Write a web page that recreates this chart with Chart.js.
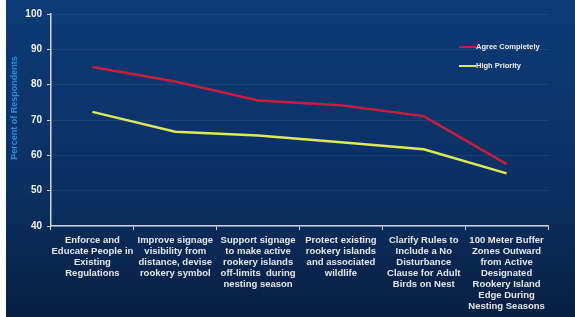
<!DOCTYPE html>
<html>
<head>
<meta charset="utf-8">
<script src="https://cdn.jsdelivr.net/npm/chart.js@4"></script>
<style>
  html, body { margin: 0; padding: 0; background: #fff; }
  #wrap { width: 575px; height: 317px; position: relative; }
</style>
</head>
<body>
<div id="wrap"><canvas id="chart" width="575" height="317"></canvas></div>
<script>
/* ---------- DATA ---------- */
const categories = [
  ['Enforce and', 'Educate People in', 'Existing', 'Regulations'],
  ['Improve signage', 'visibility from', 'distance, devise', 'rookery symbol'],
  ['Support signage', 'to make active', 'rookery islands', 'off-limits  during', 'nesting season'],
  ['Protect existing', 'rookery islands', 'and associated', 'wildlife'],
  ['Clarify Rules to', 'Include a No', 'Disturbance', 'Clause for Adult', 'Birds on Nest'],
  ['100 Meter Buffer', 'Zones Outward', 'from Active', 'Designated', 'Rookery Island', 'Edge During', 'Nesting Seasons']
];
const agreeCompletely = [85, 80.9, 75.5, 74.2, 71.1, 57.5];
const highPriority    = [72.3, 66.7, 65.6, 63.7, 61.7, 54.9];
const seriesNames     = ['Agree Completely', 'High Priority'];
const yTicks          = [40, 50, 60, 70, 80, 90, 100];

const RED = '#c81d3e';
const YELLOW = '#dbe95a';

/* ---------- BACKGROUND + LEGEND + Y TITLE ---------- */
const slidePlugin = {
  id: 'slide',
  beforeDraw(chart) {
    const { ctx, width, height } = chart;
    ctx.save();
    const g = ctx.createLinearGradient(0, 0, 0, height);
    g.addColorStop(0, '#0c3b77');
    g.addColorStop(0.6, '#0b3062');
    g.addColorStop(1, '#081f42');
    ctx.fillStyle = g;
    ctx.fillRect(0, 0, width, height);
    ctx.fillStyle = '#ffffff';
    ctx.fillRect(0, 0, 6, height);
    ctx.restore();
  },
  afterDraw(chart) {
    const { ctx } = chart;
    ctx.save();
    // y axis title
    ctx.translate(15, 108);
    ctx.rotate(-Math.PI / 2);
    ctx.fillStyle = '#2b8fd2';
    ctx.font = 'bold 9px "Liberation Sans", Arial, sans-serif';
    ctx.textAlign = 'center';
    ctx.textBaseline = 'middle';
    ctx.fillText('Percent of Respondents', 0, 0);
    ctx.restore();

    // legend
    ctx.save();
    const items = [[seriesNames[0], RED, 47], [seriesNames[1], YELLOW, 66]];
    items.forEach(([label, color, y]) => {
      ctx.strokeStyle = color;
      ctx.lineWidth = 2;
      ctx.beginPath();
      ctx.moveTo(459, y);
      ctx.lineTo(476, y);
      ctx.stroke();
      ctx.fillStyle = '#eef1f6';
      ctx.font = 'bold 7.5px "Liberation Sans", Arial, sans-serif';
      ctx.textAlign = 'left';
      ctx.textBaseline = 'middle';
      ctx.fillText(label, 476, y);
    });
    ctx.restore();
  }
};

new Chart(document.getElementById('chart'), {
  type: 'line',
  data: {
    labels: categories,
    datasets: [
      {
        label: seriesNames[0],
        data: agreeCompletely,
        borderColor: RED,
        borderWidth: 2.5,
        pointRadius: 0,
        tension: 0
      },
      {
        label: seriesNames[1],
        data: highPriority,
        borderColor: YELLOW,
        borderWidth: 2.5,
        pointRadius: 0,
        tension: 0
      }
    ]
  },
  options: {
    responsive: false,
    animation: false,
    layout: { padding: { top: 14, right: 27, left: 0, bottom: 0 } },
    plugins: {
      legend: { display: false },
      tooltip: { enabled: false }
    },
    scales: {
      x: {
        offset: true,
        grid: {
          offset: true,
          drawOnChartArea: false,
          drawTicks: true,
          tickLength: 4,
          tickColor: '#c9d3e2'
        },
        border: { color: '#c9d3e2', width: 1.5 },
        ticks: {
          color: '#e3e7ee',
          maxRotation: 0,
          autoSkip: false,
          padding: 5,
          font: { family: '"Liberation Sans", Arial, sans-serif', size: 9.5, weight: 'bold', lineHeight: 1.16 }
        },
        afterFit(scale) { scale.height = 91; }
      },
      y: {
        min: 40,
        max: 100,
        afterBuildTicks(scale) { scale.ticks = yTicks.map(v => ({ value: v })); },
        grid: {
          color: 'rgba(255,255,255,0.07)',
          tickColor: '#c9d3e2',
          tickLength: 4
        },
        border: { color: '#c9d3e2', width: 1.5 },
        ticks: {
          color: '#f2f4f8',
          padding: 5,
          font: { family: '"Liberation Sans", Arial, sans-serif', size: 10, weight: 'bold' }
        },
        afterFit(scale) { scale.width = 51; }
      }
    }
  },
  plugins: [slidePlugin]
});
</script>
</body>
</html>
